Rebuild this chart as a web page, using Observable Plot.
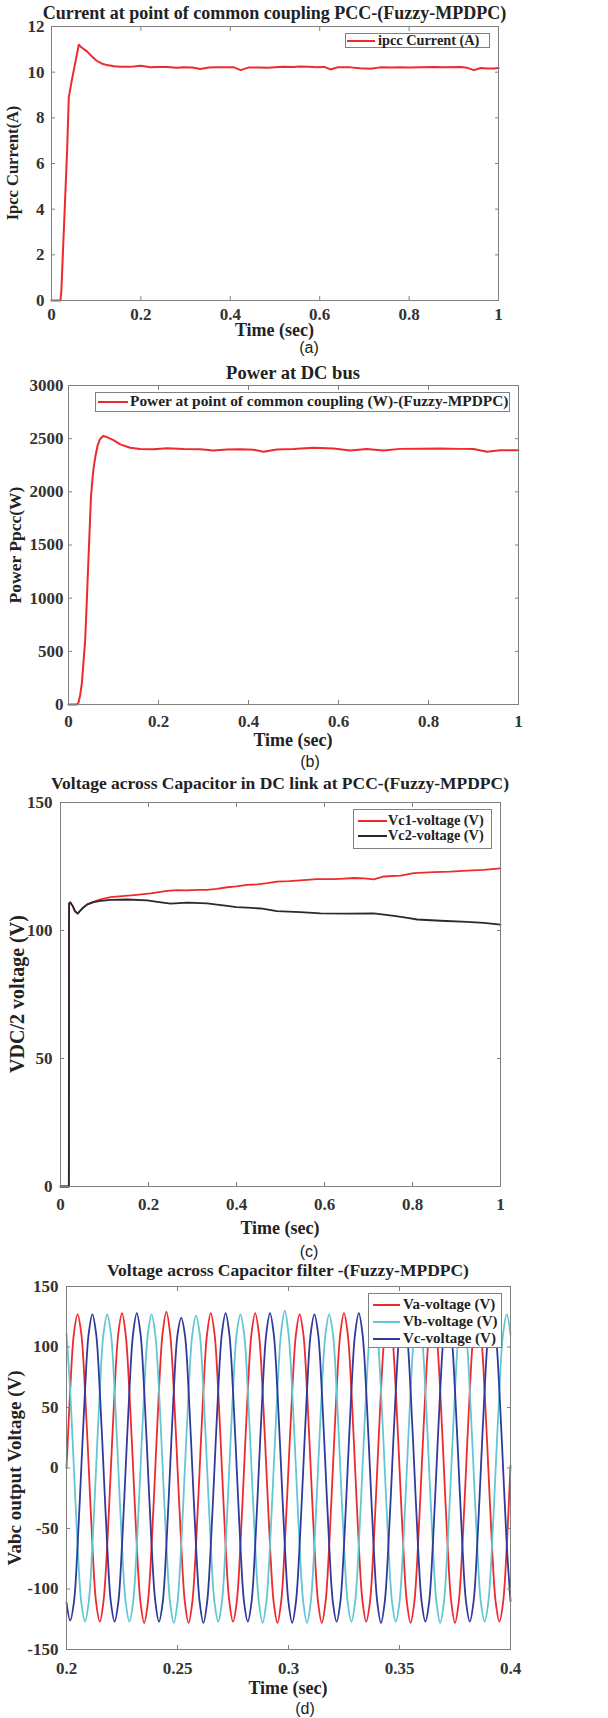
<!DOCTYPE html>
<html>
<head>
<meta charset="utf-8">
<script src="https://cdn.jsdelivr.net/npm/d3@7"></script>
<script src="https://cdn.jsdelivr.net/npm/@observablehq/plot@0.6"></script>
<style>
body{margin:0;background:#fff;}
#root{position:relative;width:608px;height:1718px;overflow:hidden;background:#fff;}
.panel{position:absolute;left:0;}
.title{position:absolute;transform:translate(-50%,-50%);white-space:nowrap;font-weight:bold;color:#222;font-family:"Liberation Serif",serif;}
.xlab{position:absolute;transform:translate(-50%,-50%);white-space:nowrap;font-weight:bold;color:#222;font-family:"Liberation Serif",serif;font-size:18px;}
.ylab{position:absolute;transform:translate(-50%,-50%) rotate(-90deg);white-space:nowrap;font-weight:bold;color:#222;font-family:"Liberation Serif",serif;}
.cap{position:absolute;transform:translate(-50%,-50%);font-family:"Liberation Sans Narrow","Liberation Sans",sans-serif;font-size:16px;color:#222;}
.lgbox{position:absolute;background:#fff;border:1px solid #808080;box-sizing:border-box;}
.lgsw{position:absolute;height:2px;}
.lgtx{position:absolute;transform:translateY(-50%);white-space:nowrap;font-family:"Liberation Serif",serif;font-weight:bold;color:#222;line-height:1;}
</style>
</head>
<body>
<div id="root"></div>
<script>
// ---------- (a) current at PCC ----------
const tA = [0, 0.02, 0.022, 0.035, 0.0387, 0.045, 0.061, 0.066, 0.080, 0.090, 0.101, 0.112, 0.124, 0.140, 0.154, 0.170, 0.184, 0.200, 0.221, 0.240, 0.259, 0.280, 0.296, 0.315, 0.333, 0.352, 0.371, 0.390, 0.408, 0.423, 0.440, 0.465, 0.483, 0.500, 0.520, 0.540, 0.557, 0.575, 0.594, 0.610, 0.624, 0.640, 0.669, 0.690, 0.714, 0.735, 0.760, 0.781, 0.800, 0.830, 0.856, 0.880, 0.915, 0.930, 0.945, 0.960, 0.975, 0.990, 1.0];
const ipcc = [0, 0, 0.4, 6.6, 8.9, 9.6, 11.2, 11.1, 10.9, 10.7, 10.5, 10.38, 10.31, 10.26, 10.24, 10.24, 10.25, 10.28, 10.22, 10.23, 10.23, 10.19, 10.22, 10.2, 10.14, 10.2, 10.21, 10.21, 10.21, 10.09, 10.2, 10.2, 10.19, 10.22, 10.24, 10.23, 10.25, 10.24, 10.22, 10.23, 10.12, 10.21, 10.21, 10.17, 10.15, 10.21, 10.2, 10.21, 10.2, 10.22, 10.23, 10.22, 10.23, 10.19, 10.09, 10.18, 10.16, 10.16, 10.18];

// ---------- (b) power ----------
const tB = [0, 0.0185, 0.022, 0.026, 0.0296, 0.033, 0.037, 0.040, 0.043, 0.046, 0.050, 0.055, 0.060, 0.065, 0.070, 0.077, 0.085, 0.100, 0.115, 0.137, 0.159, 0.189, 0.219, 0.256, 0.293, 0.322, 0.352, 0.381, 0.411, 0.433, 0.463, 0.500, 0.544, 0.589, 0.626, 0.663, 0.700, 0.737, 0.781, 0.826, 0.870, 0.900, 0.930, 0.959, 1.0];
const ppcc = [0, 0, 15, 90, 197, 380, 603, 900, 1228, 1540, 1960, 2200, 2340, 2440, 2495, 2525, 2515, 2487, 2446, 2414, 2402, 2400, 2410, 2402, 2400, 2389, 2398, 2400, 2396, 2377, 2398, 2402, 2414, 2408, 2388, 2403, 2388, 2404, 2405, 2408, 2404, 2402, 2377, 2392, 2390];

// ---------- (c) DC-link capacitor voltages ----------
const tC1 = [0, 0.019, 0.0195, 0.022, 0.028, 0.033, 0.039, 0.045, 0.052, 0.061, 0.075, 0.091, 0.114, 0.140, 0.167, 0.205, 0.242, 0.265, 0.288, 0.310, 0.333, 0.355, 0.379, 0.400, 0.424, 0.447, 0.470, 0.492, 0.520, 0.545, 0.583, 0.621, 0.645, 0.667, 0.690, 0.712, 0.735, 0.773, 0.803, 0.848, 0.886, 0.924, 0.962, 1.0];
const vc1 = [0, 0, 110.5, 111, 109.5, 107.5, 106.6, 107.8, 109, 110.2, 111.2, 112.2, 113, 113.4, 113.8, 114.5, 115.5, 115.8, 115.7, 115.9, 115.9, 116.3, 116.9, 117.2, 117.8, 118, 118.5, 119.1, 119.3, 119.6, 120.1, 120.1, 120.3, 120.5, 120.4, 120.0, 121.1, 121.4, 122.4, 122.8, 123.0, 123.4, 123.7, 124.3];
const tC2 = [0, 0.019, 0.0195, 0.022, 0.028, 0.033, 0.039, 0.045, 0.052, 0.061, 0.075, 0.091, 0.114, 0.152, 0.197, 0.220, 0.250, 0.288, 0.333, 0.360, 0.379, 0.400, 0.424, 0.455, 0.492, 0.545, 0.591, 0.652, 0.712, 0.735, 0.758, 0.785, 0.811, 0.864, 0.924, 0.962, 1.0];
const vc2 = [0, 0, 110.5, 111, 109.5, 107.5, 106.6, 107.8, 109, 110.2, 111.1, 111.6, 112.0, 112.1, 111.8, 111.2, 110.5, 110.9, 110.6, 110, 109.6, 109.1, 108.9, 108.6, 107.6, 107.2, 106.7, 106.6, 106.7, 106.2, 105.7, 105, 104.3, 103.8, 103.4, 103, 102.3];

// ---------- (d) filter capacitor voltages, read every 1/600 s from 0.2 s ----------
const tD0 = 0.2, dtD = 1 / 600;
const va = [
  0, 64, 111, 127, 111, 64, 1, -64, -111, -127, -110, -64,
  0, 64, 111, 128, 110, 63, 0, -64, -111, -128, -111, -64,
  0, 65, 112, 129, 111, 64, 0, -63, -111, -128, -111, -64,
  0, 64, 111, 128, 111, 64, 0, -64, -110, -127, -111, -64,
  0, 64, 111, 128, 111, 64, 0, -64, -111, -128, -111, -63,
  0, 63, 110, 127, 111, 64, 0, -64, -111, -128, -111, -64,
  0, 64, 111, 128, 111, 64, 0, -64, -110, -127, -111, -64,
  0, 64, 111, 128, 111, 64, 0, -64, -111, -128, -111, -64,
  0, 64, 111, 127, 110, 64, 0, -64, -111, -128, -111, -64,
  0, 64, 111, 128, 111, 64, 0, -64, -111, -127, -111, -64,
  2];
const vb = [
  111, 64, 0, -64, -111, -127, -111, -64, 0, 64, 111, 127,
  111, 64, 0, -64, -111, -127, -111, -64, 0, 64, 111, 127,
  110, 64, 0, -64, -111, -128, -111, -64, 0, 63, 110, 126,
  111, 64, 0, -64, -111, -127, -111, -64, 0, 64, 111, 127,
  111, 64, 0, -64, -111, -128, -111, -64, 0, 64, 112, 130,
  111, 64, 0, -64, -111, -128, -111, -64, 0, 64, 111, 127,
  111, 64, 0, -64, -111, -127, -111, -64, 0, 64, 111, 128,
  111, 64, 0, -64, -111, -127, -111, -64, 0, 64, 111, 127,
  111, 64, 0, -64, -111, -128, -111, -64, 0, 64, 111, 127,
  111, 64, 0, -64, -111, -127, -111, -64, 0, 64, 111, 127,
  110];
const vc = [
  -111, -126, -111, -64, 0, 64, 111, 127, 111, 64, 0, -64,
  -111, -127, -111, -64, 0, 64, 111, 128, 111, 64, 0, -64,
  -110, -127, -111, -64, 0, 64, 110, 124, 110, 64, 0, -64,
  -111, -128, -111, -64, 0, 64, 111, 128, 111, 64, 0, -64,
  -111, -127, -111, -64, 0, 64, 111, 128, 111, 64, 0, -64,
  -111, -128, -111, -64, 0, 64, 111, 127, 111, 64, 0, -64,
  -111, -127, -111, -64, 0, 64, 111, 128, 111, 64, 0, -64,
  -111, -128, -111, -64, 0, 64, 111, 128, 111, 64, 0, -64,
  -111, -127, -111, -64, 0, 64, 111, 127, 111, 64, 0, -64,
  -111, -127, -111, -64, 0, 64, 111, 128, 111, 64, 0, -64,
  -110];

// ---------- ticks and labels ----------
const xTicks01 = [0, 0.2, 0.4, 0.6, 0.8, 1];
const xTicksD = [0.2, 0.25, 0.3, 0.35, 0.4];
const yTicksA = [0, 2, 4, 6, 8, 10, 12];
const yTicksB = [0, 500, 1000, 1500, 2000, 2500, 3000];
const yTicksC = [0, 50, 100, 150];
const yTicksD = [-150, -100, -50, 0, 50, 100, 150];

const titles = ["Current at point of common coupling PCC-(Fuzzy-MPDPC)", "Power at DC bus", "Voltage across Capacitor in DC link at PCC-(Fuzzy-MPDPC)", "Voltage across Capacitor filter -(Fuzzy-MPDPC)"];
const yLabels = ["Ipcc Current(A)", "Power Ppcc(W)", "VDC/2 voltage (V)", "Vabc output Voltage (V)"];
const xLabel = "Time (sec)";
const captions = ["(a)", "(b)", "(c)", "(d)"];
const legA = ["ipcc Current (A)"];
const legB = ["Power at point of common coupling (W)-(Fuzzy-MPDPC)"];
const legC = ["Vc1-voltage (V)", "Vc2-voltage (V)"];
const legD = ["Va-voltage (V)", "Vb-voltage (V)", "Vc-voltage (V)"];

const RED = "#ee2a2e", BLACK = "#2a2a2a", CYAN = "#62c7d1", BLUE = "#2f3a9c", GRID = "#808080";

const rows = (ts, vs) => ts.map((t, i) => ({t, v: vs[i]}));
const rowsD = vs => vs.map((v, i) => ({t: tD0 + i * dtD, v}));
const fmt = d => String(d);

const root = document.getElementById("root");

function addDiv(cls, text, styles) {
  const d = document.createElement("div");
  d.className = cls;
  if (text != null) d.textContent = text;
  Object.assign(d.style, styles);
  root.appendChild(d);
  return d;
}

function panel(o) {
  const marks = [];
  for (const l of o.lines) {
    marks.push(Plot.line(l.data, {x: "t", y: "v", stroke: l.stroke, strokeWidth: l.width, curve: l.curve || "linear"}));
  }
  marks.push(
    Plot.frame({stroke: GRID, strokeWidth: 1}),
    Plot.axisX(o.xTicks, {anchor: "bottom", tickSize: 0, tickPadding: o.xPad, tickFormat: fmt, label: null, fill: "#333"}),
    Plot.axisX(o.xTicks, {anchor: "bottom", tickSize: -4, tickFormat: () => "", label: null, stroke: GRID}),
    Plot.axisX(o.xTicks, {anchor: "top", tickSize: -4, tickFormat: () => "", label: null, stroke: GRID}),
    Plot.axisY(o.yTicks, {anchor: "left", tickSize: 0, tickPadding: o.yPad, tickFormat: fmt, label: null, fill: "#333"}),
    Plot.axisY(o.yTicks, {anchor: "left", tickSize: -4, tickFormat: () => "", label: null, stroke: GRID}),
    Plot.axisY(o.yTicks, {anchor: "right", tickSize: -4, tickFormat: () => "", label: null, stroke: GRID})
  );
  const svg = Plot.plot({
    width: 608, height: o.height,
    marginTop: o.mt, marginBottom: o.mb, marginLeft: o.ml, marginRight: o.mr,
    x: {domain: o.xDomain},
    y: {domain: o.yDomain},
    style: {fontFamily: '"Liberation Serif", serif', fontWeight: "bold", fontSize: "17px", color: "#333", background: "transparent", overflow: "visible"},
    marks
  });
  const div = document.createElement("div");
  div.className = "panel";
  div.style.top = o.top + "px";
  div.appendChild(svg);
  root.appendChild(div);

  const fx = (o.ml + (608 - o.mr)) / 2;
  const fy = o.top + o.mt + (o.height - o.mt - o.mb) / 2;
  addDiv("title", o.title, {left: fx + "px", top: o.titleY + "px", fontSize: o.titleSize + "px"});
  addDiv("xlab", xLabel, {left: fx + "px", top: o.xLabY + "px"});
  addDiv("ylab", o.yLabel, {left: o.yLabX + "px", top: fy + "px", fontSize: o.yLabSize + "px"});
  addDiv("cap", o.caption, {left: o.capX + "px", top: o.capY + "px"});

  const L = o.legend;
  addDiv("lgbox", null, {left: L.x + "px", top: L.y + "px", width: L.w + "px", height: L.h + "px"});
  L.labels.forEach((lab, i) => {
    const yc = L.rowY[i];
    addDiv("lgsw", null, {left: L.swX + "px", top: (yc - 1) + "px", width: L.swW + "px", background: L.colors[i]});
    addDiv("lgtx", lab, {left: L.txX + "px", top: (yc - 1) + "px", fontSize: L.size + "px"});
  });
}

panel({
  top: 16, height: 326, mt: 10, mb: 42, ml: 51, mr: 110,
  xDomain: [0, 1], yDomain: [0, 12], xTicks: xTicks01, yTicks: yTicksA,
  xPad: 7, yPad: 7, yLabel: yLabels[0], yLabX: 13, yLabSize: 16.5, xLabY: 330,
  lines: [{data: rows(tA, ipcc), stroke: RED, width: 2}],
  title: titles[0], titleY: 13, titleSize: 18, caption: captions[0], capX: 309, capY: 348,
  legend: {x: 345, y: 33, w: 145, h: 15, swX: 347, swW: 28, txX: 378, size: 14.3, rowY: [40.5], labels: legA, colors: [RED]}
});

panel({
  top: 375, height: 379, mt: 10, mb: 50, ml: 68, mr: 90,
  xDomain: [0, 1], yDomain: [0, 3000], xTicks: xTicks01, yTicks: yTicksB,
  xPad: 10, yPad: 5, yLabel: yLabels[1], yLabX: 15, yLabSize: 17.5, xLabY: 740,
  lines: [{data: rows(tB, ppcc), stroke: RED, width: 2}],
  title: titles[1], titleY: 373, titleSize: 18.5, caption: captions[1], capX: 310, capY: 762,
  legend: {x: 95, y: 392, w: 415, h: 20, swX: 98, swW: 30, txX: 130, size: 15.4, rowY: [402], labels: legB, colors: [RED]}
});

panel({
  top: 792, height: 449, mt: 10, mb: 55, ml: 60, mr: 108,
  xDomain: [0, 1], yDomain: [0, 150], xTicks: xTicks01, yTicks: yTicksC,
  xPad: 11, yPad: 8, yLabel: yLabels[2], yLabX: 17, yLabSize: 20, xLabY: 1228,
  lines: [{data: rows(tC1, vc1), stroke: RED, width: 1.8}, {data: rows(tC2, vc2), stroke: BLACK, width: 1.8}],
  title: titles[2], titleY: 783, titleSize: 17.5, caption: captions[2], capX: 309, capY: 1252,
  legend: {x: 353, y: 809, w: 139, h: 40, swX: 358, swW: 29, txX: 388, size: 14.3, rowY: [821, 836], labels: legC, colors: [RED, BLACK]}
});

panel({
  top: 1276, height: 425, mt: 10, mb: 52, ml: 66, mr: 98,
  xDomain: [0.2, 0.4], yDomain: [-150, 150], xTicks: xTicksD, yTicks: yTicksD,
  xPad: 12, yPad: 8, yLabel: yLabels[3], yLabX: 15, yLabSize: 19, xLabY: 1688,
  lines: [{data: rowsD(va), stroke: RED, width: 1.8, curve: "catmull-rom"}, {data: rowsD(vb), stroke: CYAN, width: 1.8, curve: "catmull-rom"}, {data: rowsD(vc), stroke: BLUE, width: 1.8, curve: "catmull-rom"}],
  title: titles[3], titleY: 1270, titleSize: 17.5, caption: captions[3], capX: 305, capY: 1709,
  legend: {x: 368, y: 1293, w: 134, h: 55, swX: 373, swW: 27, txX: 403, size: 15, rowY: [1305, 1322, 1339], labels: legD, colors: [RED, CYAN, BLUE]}
});
</script>
</body>
</html>
